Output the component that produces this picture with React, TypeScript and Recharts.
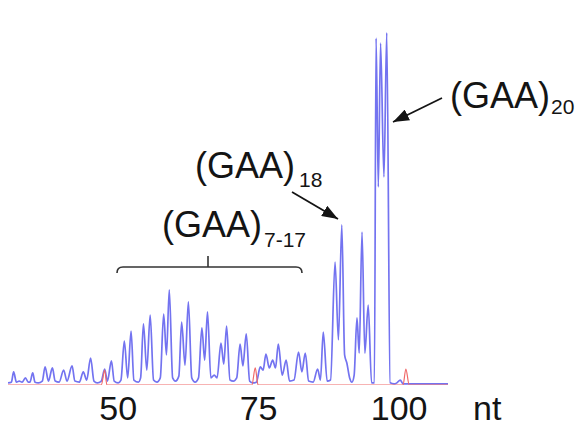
import { LineChart, Line, XAxis, YAxis } from 'recharts'

// electropherogram: [size in nt, signal in % of full scale]
const blueTrace: [number, number][] = [
  [30.4, 0.6], [31.0, 0.8], [31.4, 3.7], [31.9, 0.8], [32.4, 1.1], [32.9, 0.8], [33.5, 2.0], [34.0, 0.8],
  [34.3, 0.8], [34.8, 3.4], [35.2, 0.8], [35.8, 0.6], [36.5, 1.1], [37.0, 5.1], [37.6, 1.1], [38.3, 4.8],
  [38.8, 1.1], [39.5, 0.8], [40.3, 4.2], [40.9, 1.1], [41.8, 5.4], [42.3, 1.1], [43.1, 0.8], [43.8, 3.7],
  [44.4, 1.4], [45.1, 7.6], [45.7, 1.1], [46.3, 0.6], [47.0, 1.1], [47.6, 4.5], [48.1, 1.1], [48.8, 6.8],
  [49.3, 1.1], [50.0, 0.6], [50.5, 1.4], [51.1, 12.4], [51.7, 2.0], [52.3, 15.2], [52.8, 1.4], [53.6, 0.8],
  [54.0, 2.0], [54.5, 17.2], [55.1, 4.2], [55.7, 19.7], [56.3, 1.4], [56.9, 0.8], [57.5, 2.0], [58.1, 20.0],
  [58.6, 8.5], [59.1, 26.8], [59.7, 2.0], [60.2, 1.1], [60.8, 2.5], [61.3, 17.7], [61.9, 5.6], [62.5, 23.4],
  [63.1, 2.0], [63.7, 0.8], [64.3, 2.0], [64.9, 16.1], [65.4, 7.0], [65.9, 20.6], [66.5, 2.0], [67.1, 2.8],
  [67.6, 2.0], [68.3, 11.8], [68.8, 5.9], [69.3, 16.6], [69.9, 1.4], [70.5, 1.1], [71.1, 2.0], [71.7, 11.5],
  [72.2, 5.4], [72.8, 14.4], [73.4, 1.1], [74.0, 0.6], [74.6, 0.8], [75.3, 5.1], [75.8, 4.2], [76.3, 8.7],
  [76.9, 4.8], [77.5, 7.0], [78.0, 4.8], [78.5, 11.5], [79.2, 2.8], [79.9, 7.0], [80.5, 1.1], [81.3, 1.4],
  [82.1, 9.3], [82.7, 3.7], [83.3, 9.0], [83.9, 1.1], [84.7, 0.8], [85.5, 4.5], [86.0, 1.4], [86.5, 14.9],
  [87.2, 1.1], [87.8, 1.4], [88.6, 34.6], [89.2, 12.7], [89.8, 45.1], [90.3, 8.5], [90.7, 6.2], [91.2, 2.0],
  [91.6, 0.8], [92.0, 2.8], [92.5, 18.9], [92.9, 9.0], [93.4, 43.1], [93.9, 9.0], [94.5, 22.5], [95.1, 0.6],
  [95.6, 0.6], [95.9, 97.7], [96.3, 55.8], [96.7, 96.3], [97.3, 58.6], [97.8, 99.2], [98.4, 0.6], [99.1, 0.3],
  [99.6, 0.6], [100.2, 1.4], [100.7, 0.3], [102.0, 0.3], [103.7, 0.3], [108.7, 0.3],
]

const redTrace: [number, number][] = [
  [30.4, 0], [47.0, 0], [47.6, 4.2], [48.0, 0], [73.8, 0], [74.4, 4.8], [74.9, 0],
  [100.7, 0], [101.2, 4.5], [101.8, 0], [108.7, 0],
]

const sizeTicks = [50, 75, 100]

const blueData = blueTrace.map(([nt, v]) => ({ nt, v }))
const redData = redTrace.map(([nt, v]) => ({ nt, v }))

const font = '"Liberation Sans", Arial, sans-serif'
const ink = '#141414'

export default function App() {
  return (
    <div style={{ position: 'absolute', left: 0, top: 0, width: 586, height: 426, background: '#fff', fontFamily: font }}>
      <LineChart width={586} height={426} margin={{ top: 30, right: 138, bottom: 0, left: 8 }}>
        <XAxis
          type="number"
          dataKey="nt"
          domain={[30.4, 108.7]}
          ticks={sizeTicks}
          allowDataOverflow
          height={41}
          axisLine={false}
          tickLine={false}
          tickSize={6}
          tickMargin={5}
          tick={{ fontSize: 34, fill: ink, fontFamily: font }}
        />
        <YAxis hide domain={[0, 100]} allowDataOverflow />
        <Line data={blueData} dataKey="v" type="monotone" stroke="#7373f0" strokeWidth={1.7} dot={false} isAnimationActive={false} />
        <Line data={redData} dataKey="v" type="monotone" stroke="#f06868" strokeWidth={1.2} dot={false} isAnimationActive={false} />
      </LineChart>

      {/* annotations */}
      <svg width={586} height={426} style={{ position: 'absolute', left: 0, top: 0, pointerEvents: 'none' }}>
        <defs>
          <marker id="head" viewBox="0 0 16 12" refX="16" refY="6" markerWidth="16" markerHeight="12" markerUnits="userSpaceOnUse" orient="auto">
            <path d="M0,0 L16,6 L0,12 z" fill={ink} />
          </marker>
        </defs>
        <g fontFamily={font} fill={ink}>
          <text x={450} y={108} fontSize={36}>(GAA)</text>
          <text x={551} y={114} fontSize={21}>20</text>
          <text x={195} y={178} fontSize={36}>(GAA)</text>
          <text x={299} y={187} fontSize={21}>18</text>
          <text x={162} y={237} fontSize={36}>(GAA)</text>
          <text x={264} y={247} fontSize={21}>7-17</text>
          <text x={473} y={420} fontSize={34}>nt</text>
        </g>
        <line x1={442} y1={98} x2={393} y2={122} stroke={ink} strokeWidth={1.8} markerEnd="url(#head)" />
        <line x1={292} y1={192} x2={338} y2={219} stroke={ink} strokeWidth={1.8} markerEnd="url(#head)" />
        <path d="M117,273 Q117,267 123,267 L296,267 Q302,267 302,273 M208,267 L208,256" fill="none" stroke="#333" strokeWidth={1.6} />
      </svg>
    </div>
  )
}
